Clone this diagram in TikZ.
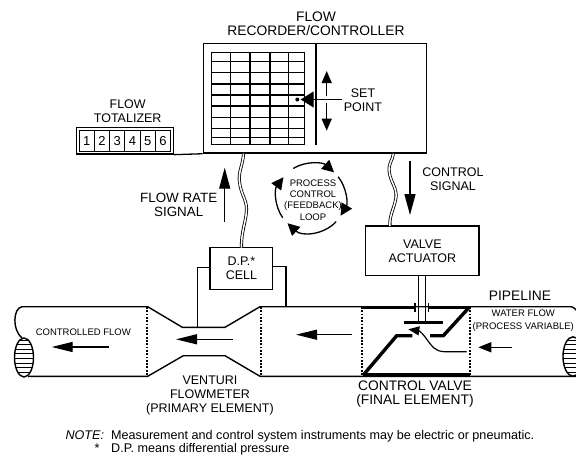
\documentclass[tikz,border=0pt]{standalone}
\usepackage{fontspec}
\setmainfont{Liberation Sans}
\usetikzlibrary{arrows.meta, calc}
\newcommand{\fs}[1]{\fontsize{#1}{14}\selectfont}

\begin{document}
\begin{tikzpicture}[
    x=1pt, y=-1pt,
    every node/.style={font=\fs{12.5}, inner sep=0pt},
    lbl/.style={align=center},
    lblbig/.style={align=center, font=\fs{13.8}},
    lblsmall/.style={align=center, font=\fontsize{9.5}{11.3}\selectfont},
    instbox/.style={rectangle, draw, line width=1.4pt, align=center},
    pipeline/.style={line width=1.4pt},
    valvebar/.style={line width=3.4pt},
    dashline/.style={line width=1.3pt, dash pattern=on 1.8pt off 1.5pt},
    wire/.style={double, double distance=1.5pt, line width=.8pt},
    sigarrow/.style={line width=1.3pt, -{Triangle[length=21pt, width=11pt]}},
    flowarrow/.style={line width=1.3pt, -{Triangle[length=21pt, width=10pt]}},
    looparrow/.style={line width=1.3pt, -{Triangle[length=12pt, width=12pt]}},
]
\useasboundingbox (0,0) rectangle (576,458);

% Recorder/controller with its chart
\node[instbox, minimum width=223.5pt, minimum height=109.5pt] (recorder)
    at (315,98.3) {};
\node[lblbig] (recorderlbl) at (316,23.7) {FLOW\\[-.2pt]RECORDER/CONTROLLER};
\foreach \x in {211.7,230.3,250,270,288.7,304.7}
    \draw[line width=1.2pt] (\x,52) -- (\x,144.5);
\foreach \y in {52.3,61.7,72.7,84,95,106,117.3,128.3,137.3,144.3}
    \draw[line width=1.2pt] (211.7,\y) -- (304.7,\y);
\coordinate (dividertop) at (316,43.5);
\coordinate (dividerend) at (316,145);
\draw[line width=1.3pt] (dividertop) -- (dividerend);

% Set point pointer
\node[lbl] (setpoint) at (363,100.5) {SET\\POINT};
\node[circle, fill, minimum size=4pt] (pen) at (297.3,99.5) {};
\coordinate (pointertail) at (341.7,99.5);
\coordinate (pointertip) at (300.7,99.5);
\draw[line width=1.3pt, -{Triangle[length=13pt, width=16pt]}] (pointertail) -- (pointertip);
\draw[line width=1.3pt, -{Triangle[length=12pt, width=10pt]}] (326.7,95.7) -- (326.7,71);
\draw[line width=1.3pt, -{Triangle[length=12pt, width=10pt]}] (326.7,103) -- (326.7,130.7);

% Totalizer
\node[lbl] (totalizerlbl) at (127.7,110.7) {FLOW\\TOTALIZER};
\node[instbox, minimum width=97pt, minimum height=26.7pt] (totalizer)
    at (124.8,140.6) {};
\foreach \d [evaluate=\d as \x using 71.4+15.28*\d] in {1,...,6}
    \node[draw, line width=1pt, font=\fs{13}, minimum width=15.28pt, minimum height=21pt]
        (digit\d) at (\x,140.6) {\d};
\draw[line width=1.3pt] (totalizer.south east) -- (recorder.south west);

% D.P. cell and its impulse lines
\node[instbox, minimum width=62.7pt, minimum height=41.6pt] (dpcell)
    at (241.4,268.5) {D.P.*\\CELL};
\coordinate (tapleft) at (197.7,327.3);
\coordinate (tapright) at (286,306.7);
\draw[pipeline] (dpcell.west |- 0,267.3) -| (tapleft);
\draw[pipeline] (dpcell.east |- 0,266.7) -| (tapright);

% Signal wires
\coordinate (dpout) at (243.5,153.7);
\draw[wire] (dpout) .. controls (243,165) and (238,172) .. (239.5,182)
    .. controls (241,195) and (247,200) .. (246.5,210)
    .. controls (246,222) and (241,232) .. (241.5,247.7);
\node[instbox, minimum width=113.3pt, minimum height=49.7pt] (actuator)
    at (422.4,250.9) {VALVE\\ACTUATOR};
\coordinate (ctrlout) at (393.3,153.7);
\draw[wire] (ctrlout) .. controls (393,160) and (388,163) .. (389.3,172)
    .. controls (390.5,182) and (397,188) .. (396,197)
    .. controls (395,207) and (389,215) .. (390,226);

% Signal arrows and their labels
\coordinate (ratetail) at (224.7,221.7);
\coordinate (ratetip) at (224.7,167.7);
\draw[sigarrow] (ratetail) -- (ratetip);
\node[lbl, font=\fs{13.4}] (ratelbl) at (178.7,204.7) {FLOW RATE\\SIGNAL};
\coordinate (ctrltail) at (410,160.7);
\coordinate (ctrltip) at (410,215);
\draw[sigarrow] (ctrltail) -- (ctrltip);
\node[lbl] (ctrllbl) at (453,179) {CONTROL\\SIGNAL};

% Feedback loop
\coordinate (loopc) at (311,198);
\node[lblsmall] (looplbl) at (313,200) {PROCESS\\CONTROL\\(FEEDBACK)\\LOOP};
\draw[looparrow] ($(loopc)+(-121:34.5)$) arc[start angle=-121, end angle=-48, radius=34.5];
\draw[looparrow] ($(loopc)+(-38:34.5)$) arc[start angle=-38, end angle=31, radius=34.5];
\draw[looparrow] ($(loopc)+(43:34.5)$) arc[start angle=43, end angle=133, radius=34.5];
\draw[looparrow] ($(loopc)+(145:34.5)$) arc[start angle=145, end angle=217, radius=34.5];

% Pipe walls
\draw[pipeline] (22,306.7) -- (147.7,306.7) -- (182.3,327.3) -- (225,327.3)
    -- (260,306.7) -- (568,306.7) .. controls (573,306.7) .. (577,311);
\draw[pipeline] (28,376.3) -- (147.7,376.3) -- (183.3,355.7) -- (225,355.7)
    -- (260,376.3) -- (577,376.3);
\draw[pipeline] (22,306.7) .. controls (13,308) and (12,330) .. (22,338);
\foreach \x in {147,261,362,470}
    \draw[dashline] (\x,307) -- (\x,376);

% Pipe ends with hatching
\begin{scope}
    \clip (24,357.5) ellipse [x radius=9.5, y radius=19.5];
    \foreach \y in {340,344.6,...,376}
        \draw[line width=1pt] (10,\y) -- (38,\y);
\end{scope}
\draw[pipeline] (24,357.5) ellipse [x radius=9.5, y radius=19.5];
\begin{scope}
    \clip (573,356.5) ellipse [x radius=10, y radius=19.7];
    \foreach \y in {340,344.6,...,376}
        \draw[line width=1pt] (560,\y) -- (577,\y);
\end{scope}
\draw[pipeline] (573,356.5) ellipse [x radius=10, y radius=19.7];

% Control valve
\draw[valvebar] (362.3,307.7) -- (415,307.7);
\draw[valvebar] (428.3,307.7) -- (470,307.7);
\draw[valvebar] (363,374.8) -- (470,374.8);
\draw[line width=1.3pt] (415,303.3) -- (415,312.3);
\draw[line width=1.3pt] (428.3,303.3) -- (428.3,312.3);
\coordinate (stemleft) at (418.5,322.7);
\coordinate (stemright) at (425.5,322.7);
\draw[line width=1.3pt] (stemleft |- actuator.south) -- (stemleft);
\draw[line width=1.3pt] (stemright |- actuator.south) -- (stemright);
\draw[valvebar] (404,322.7) -- (442.7,322.7);
\draw[valvebar] (363.3,375) -- (396.7,335.7) -- (412.3,335.7);
\draw[valvebar] (430,335.7) -- (443.3,335.7) -- (468.3,308.3);
\draw[line width=1.2pt, -{Triangle[length=11pt, width=9pt]}] (466.7,351.7) -- (445,351.7)
    .. controls (435,351.7) and (432,346) .. (428,341)
    .. controls (424,335) and (420,331) .. (408.3,329.3);

% Flow arrows
\draw[flowarrow] (109,347) -- (51.7,347);
\draw[flowarrow] (232.7,339.3) -- (176,339.3);
\draw[flowarrow] (351.7,334.7) -- (296,334.7);
\draw[line width=1.3pt, -{Triangle[length=13pt, width=10pt]}] (512.3,347.3) -- (478.3,347.3);

% Pipe labels
\node[lblsmall] (controlledlbl) at (83.3,332) {CONTROLLED FLOW};
\node[lblbig] (pipelinelbl) at (520,295.3) {PIPELINE};
\node[lblsmall] (waterlbl) at (523.3,320.8) {WATER FLOW\\[1pt](PROCESS VARIABLE)};
\node[lbl] (venturilbl) at (210,395.3) {VENTURI\\FLOWMETER\\(PRIMARY ELEMENT)};
\node[lblbig] (valvelbl) at (415,394.5) {CONTROL VALVE\\(FINAL ELEMENT)};

% Notes
\node[anchor=base east, font=\fs{12.6}\itshape] (notelbl) at (104.3,439) {NOTE:};
\node[anchor=base west, font=\fs{12.6}] (notetext) at (111,439)
    {Measurement and control system instruments may be electric or pneumatic.};
\node[anchor=base, font=\fs{12.6}] (starlbl) at (97,452.7) {*};
\node[anchor=base west, font=\fs{12.6}] (startext) at (111,452.7)
    {D.P. means differential pressure};

\end{tikzpicture}
\end{document}
